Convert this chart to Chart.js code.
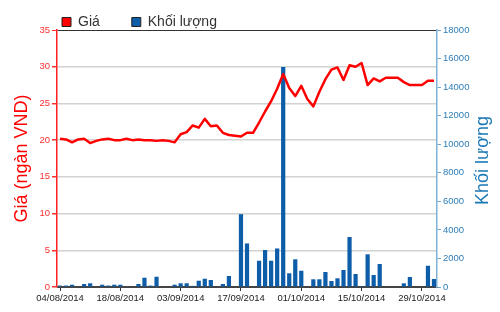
<!DOCTYPE html>
<html>
<head>
<meta charset="utf-8">
<script src="https://cdn.jsdelivr.net/npm/chart.js@4/dist/chart.umd.min.js"></script>
<style>
  html, body { margin: 0; padding: 0; background: #fff; }
  #wrap { width: 500px; height: 312px; }
</style>
</head>
<body>
<div id="wrap"><canvas id="chart" width="500" height="312"></canvas></div>
<script>
"use strict";

const tradingDates = [
  "04/08/2014", "05/08/2014", "06/08/2014", "07/08/2014", "08/08/2014",
  "11/08/2014", "12/08/2014", "13/08/2014", "14/08/2014", "15/08/2014",
  "18/08/2014", "19/08/2014", "20/08/2014", "21/08/2014", "22/08/2014",
  "25/08/2014", "26/08/2014", "27/08/2014", "28/08/2014", "29/08/2014",
  "03/09/2014", "04/09/2014", "05/09/2014", "08/09/2014", "09/09/2014",
  "10/09/2014", "11/09/2014", "12/09/2014", "15/09/2014", "16/09/2014",
  "17/09/2014", "18/09/2014", "19/09/2014", "22/09/2014", "23/09/2014",
  "24/09/2014", "25/09/2014", "26/09/2014", "29/09/2014", "30/09/2014",
  "01/10/2014", "02/10/2014", "03/10/2014", "06/10/2014", "07/10/2014",
  "08/10/2014", "09/10/2014", "10/10/2014", "13/10/2014", "14/10/2014",
  "15/10/2014", "16/10/2014", "17/10/2014", "20/10/2014", "21/10/2014",
  "22/10/2014", "23/10/2014", "24/10/2014", "27/10/2014", "28/10/2014",
  "29/10/2014", "30/10/2014", "31/10/2014"
];

const priceValues = [
  20.2, 20.1, 19.7, 20.1, 20.2, 19.6, 19.9, 20.1, 20.2, 20.0,
  20.0, 20.2, 20.0, 20.1, 20.0, 20.0, 19.9, 20.0, 19.9, 19.7,
  20.8, 21.1, 22.0, 21.7, 22.9, 21.9, 22.0, 21.0, 20.7, 20.6,
  20.5, 21.0, 21.0, 22.4, 23.9, 25.3, 27.0, 29.0, 27.1, 26.0,
  27.4, 25.6, 24.6, 26.6, 28.3, 29.6, 29.9, 28.2, 30.2, 30.0,
  30.5, 27.5, 28.4, 28.0, 28.5, 28.5, 28.5, 27.9, 27.5, 27.5,
  27.5, 28.1, 28.1
];

const volumeValues = [
  100, 100, 160, 0, 210, 260, 0, 160, 100, 160,
  160, 0, 0, 210, 650, 100, 720, 0, 0, 160,
  260, 260, 80, 440, 580, 490, 0, 210, 770, 0,
  5100, 3050, 0, 1840, 2590, 1840, 2700, 15400, 960, 1940,
  1140, 0, 540, 540, 1050, 420, 610, 1190, 3500, 910,
  70, 2290, 840, 1610, 0, 0, 0, 260, 700, 0,
  0, 1490, 560
];

const xTickDates = ["04/08/2014", "18/08/2014", "03/09/2014", "17/09/2014", "01/10/2014", "15/10/2014", "29/10/2014"];
const priceTicks = [0, 5, 10, 15, 20, 25, 30, 35];
const volumeTicks = [0, 2000, 4000, 6000, 8000, 10000, 12000, 14000, 16000, 18000];

const priceLabel = "Giá";
const volumeLabel = "Khối lượng";
const priceTitle = "Giá (ngàn VND)";
const volumeTitle = "Khối lượng";

const fontFamily = '"Liberation Sans", Arial, sans-serif';

// right title reads bottom-to-top in the original, so draw it ourselves
const volumeTitlePlugin = {
  id: "volumeTitle",
  afterDraw(chart) {
    const { ctx, chartArea } = chart;
    const scale = chart.scales.yVolume;

    ctx.save();
    ctx.translate(scale.right - 17, (chartArea.top + chartArea.bottom) / 2 + 2);
    ctx.rotate(-Math.PI / 2);
    ctx.font = "18px " + fontFamily;
    ctx.fillStyle = "#1b78b6";
    ctx.textAlign = "center";
    ctx.textBaseline = "middle";
    ctx.fillText(volumeTitle, 0, 0);
    ctx.restore();
  }
};

// legend sits over the plot's left edge, not the canvas edge
const legendShiftPlugin = {
  id: "legendShift",
  afterLayout(chart) {
    chart.legend.left = 30;
    chart.legend.top = -17;
  }
};

const ctx = document.getElementById("chart").getContext("2d");
const chart = new Chart(ctx, {
  data: {
    labels: tradingDates,
    datasets: [
      {
        type: "line",
        label: priceLabel,
        data: priceValues,
        yAxisID: "yPrice",
        borderColor: "#ff0000",
        backgroundColor: "#ff0000",
        borderWidth: 2.5,
        borderJoinStyle: "round",
        pointRadius: 0,
        tension: 0,
        order: 0
      },
      {
        type: "bar",
        label: volumeLabel,
        data: volumeValues,
        yAxisID: "yVolume",
        backgroundColor: "#0d5da8",
        borderWidth: 0,
        barPercentage: 0.7,
        categoryPercentage: 1,
        order: 1
      }
    ]
  },
  options: {
    responsive: false,
    animation: false,
    layout: { padding: 0 },
    plugins: {
      tooltip: { enabled: false },
      legend: {
        position: "top",
        align: "start",
        maxHeight: 30,
        labels: {
          boxWidth: 9,
          boxHeight: 9,
          padding: 32,
          color: "#333",
          font: { family: fontFamily, size: 14 },
          generateLabels: c =>
            Chart.defaults.plugins.legend.labels.generateLabels(c).map(item => ({
              ...item,
              lineWidth: 1,
              strokeStyle: "#222"
            }))
        }
      }
    },
    scales: {
      x: {
        grid: {
          offset: false,
          drawOnChartArea: false,
          tickLength: 4,
          color: c => (xTickDates.includes(tradingDates[c.index]) ? "#333" : "transparent")
        },
        border: { color: "#444", width: 1 },
        ticks: {
          autoSkip: false,
          maxRotation: 0,
          padding: 2,
          color: "#222",
          font: { family: fontFamily, size: 9.5 },
          callback: (value, index) => (xTickDates.includes(tradingDates[index]) ? tradingDates[index] : "")
        },
        afterFit: scale => {
          scale.height = 25;
        }
      },
      yPrice: {
        position: "left",
        min: 0,
        max: 35,
        afterBuildTicks: scale => {
          scale.ticks = priceTicks.map(value => ({ value }));
        },
        grid: {
          color: c => (c.tick.value === 35 ? "#333" : c.tick.value === 0 ? "#444" : "#d2d2d2"),
          lineWidth: c => (c.tick.value === 35 ? 1 : 1.5),
          tickColor: "#ff3030",
          tickLength: 5
        },
        border: { color: "#ff2020", width: 1.5 },
        ticks: {
          color: "#ff3030",
          padding: 2,
          font: { family: fontFamily, size: 9.5 }
        },
        title: {
          display: true,
          text: priceTitle,
          color: "#ff0000",
          font: { family: fontFamily, size: 18 },
          padding: { top: 11, bottom: 0 }
        },
        afterFit: scale => {
          scale.width = 57;
        }
      },
      yVolume: {
        position: "right",
        min: 0,
        max: 18000,
        afterBuildTicks: scale => {
          scale.ticks = volumeTicks.map(value => ({ value }));
        },
        grid: {
          drawOnChartArea: false,
          tickColor: "#6ea6cf",
          tickLength: 4
        },
        border: { color: "#7eb2d6", width: 1.5 },
        ticks: {
          color: "#2f7db5",
          padding: 2,
          font: { family: fontFamily, size: 9.5 },
          callback: value => String(value)
        },
        afterFit: scale => {
          scale.width = 63;
        }
      }
    }
  },
  plugins: [legendShiftPlugin, volumeTitlePlugin]
});
</script>
</body>
</html>
